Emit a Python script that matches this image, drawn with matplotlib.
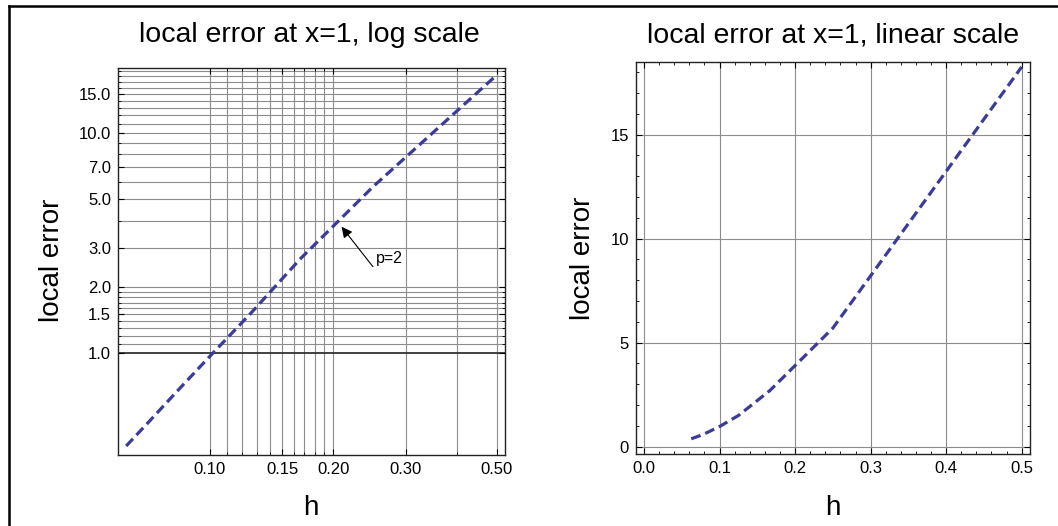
import numpy as np
import matplotlib.pyplot as plt
from matplotlib.lines import Line2D
from matplotlib.ticker import FixedLocator, FixedFormatter, MultipleLocator, NullFormatter

plt.rcParams['font.family'] = ['Liberation Sans', 'DejaVu Sans']

# local error at x=1 for several step sizes h
h = [0.0625, 0.0714, 0.0833, 0.1, 0.125, 0.1667, 0.25, 0.5]
err = [0.38, 0.495, 0.675, 0.97, 1.50, 2.70, 5.70, 18.25]

# log panel ticks / grid
log_xticks = [0.10, 0.15, 0.20, 0.30, 0.50]
log_xgrid = [0.10, 0.11, 0.12, 0.13, 0.14, 0.15, 0.16, 0.17, 0.18, 0.19, 0.20, 0.30, 0.40, 0.50]
log_yticks = [1.0, 1.5, 2.0, 3.0, 5.0, 7.0, 10.0, 15.0]
log_ygrid = [1.1, 1.2, 1.3, 1.4, 1.5, 1.6, 1.7, 1.8, 1.9, 2.0,
             3, 4, 5, 6, 7, 8, 9, 10, 11, 12, 13, 14, 15, 16, 17, 18, 19]

line_color = '#3b3b98'
grid_color = '#8c8c8c'

fig = plt.figure(figsize=(10.58, 5.26), dpi=100)

# ---- left: log scale ----
ax1 = fig.add_axes([118/1058, 1 - 455/526, (505-118)/1058, (455-68.3)/526])
ax1.set_xscale('log')
ax1.set_yscale('log')
ax1.set_xlim(0.0597, 0.524)
ax1.set_ylim(0.346, 19.6)
for xv in log_xgrid:
    ax1.axvline(xv, color=grid_color, lw=0.8, zorder=1)
for yv in log_ygrid:
    ax1.axhline(yv, color=grid_color, lw=0.8, zorder=1)
ax1.axhline(1.0, color='#333333', lw=1.3, zorder=1)
ax1.plot(h, err, color=line_color, lw=2.3, dashes=(3.1, 1.6), zorder=3)

ax1.xaxis.set_major_locator(FixedLocator(log_xticks))
ax1.xaxis.set_major_formatter(FixedFormatter(['%.2f' % v for v in log_xticks]))
ax1.xaxis.set_minor_locator(FixedLocator([v for v in log_xgrid if v not in log_xticks]))
ax1.xaxis.set_minor_formatter(NullFormatter())
ax1.yaxis.set_major_locator(FixedLocator(log_yticks))
ax1.yaxis.set_major_formatter(FixedFormatter(['%.1f' % v for v in log_yticks]))
ax1.yaxis.set_minor_locator(FixedLocator([v for v in log_ygrid if v not in log_yticks]))
ax1.yaxis.set_minor_formatter(NullFormatter())

ax1.annotate('', xy=(0.2094, 3.75), xytext=(0.2497, 2.47),
             arrowprops=dict(arrowstyle='-|>', color='k', lw=0.8,
                             mutation_scale=16, shrinkA=0, shrinkB=0), zorder=4)
ax1.text(0.254, 2.68, 'p=2', fontsize=11.5, ha='left', va='center', zorder=4)

# ---- right: linear scale ----
ax2 = fig.add_axes([636/1058, 1 - 454.3/526, (1030-636)/1058, (454.3-61.7)/526])
ax2.set_xlim(-0.0106, 0.511)
ax2.set_ylim(-0.365, 18.5)
ax2.xaxis.set_major_locator(MultipleLocator(0.1))
ax2.xaxis.set_minor_locator(MultipleLocator(0.02))
ax2.yaxis.set_major_locator(MultipleLocator(5))
ax2.yaxis.set_minor_locator(MultipleLocator(1))
ax2.xaxis.set_major_formatter(plt.FuncFormatter(lambda v, p: '%.1f' % v))
ax2.grid(True, which='major', color=grid_color, lw=0.8, zorder=1)
ax2.set_axisbelow(True)
ax2.plot(h, err, color=line_color, lw=2.3, dashes=(3.1, 1.6), zorder=3)

for ax in (ax1, ax2):
    ax.tick_params(which='both', direction='in', top=True, right=True,
                   labelsize=12, colors='k', pad=5)
    ax.tick_params(which='major', length=4, width=0.8)
    ax.tick_params(which='minor', length=2.5, width=0.6)
    for s in ax.spines.values():
        s.set_linewidth(1.0)
        s.set_color('#222222')

# titles and labels
fig.text(309/1058, 1 - 35/526, 'local error at x=1, log scale', fontsize=20.5,
         ha='center', va='center')
fig.text(833/1058, 1 - 35/526, 'local error at x=1, linear scale', fontsize=20.5,
         ha='center', va='center')
fig.text(52/1058, 1 - 260/526, 'local error', fontsize=20, rotation=90,
         ha='center', va='center')
fig.text(583/1058, 1 - 258/526, 'local error', fontsize=20, rotation=90,
         ha='center', va='center')
fig.text(311/1058, 1 - 508/526, 'h', fontsize=20, ha='center', va='center')
fig.text(833/1058, 1 - 508/526, 'h', fontsize=20, ha='center', va='center')

# outer frame (top and left edges)
fig.add_artist(Line2D([9/1058, 1], [1 - 6/526, 1 - 6/526], color='k', lw=1.8,
                      transform=fig.transFigure))
fig.add_artist(Line2D([9/1058, 9/1058], [0, 1 - 6/526], color='k', lw=1.8,
                      transform=fig.transFigure))

fig.savefig('out.png', dpi=100)
